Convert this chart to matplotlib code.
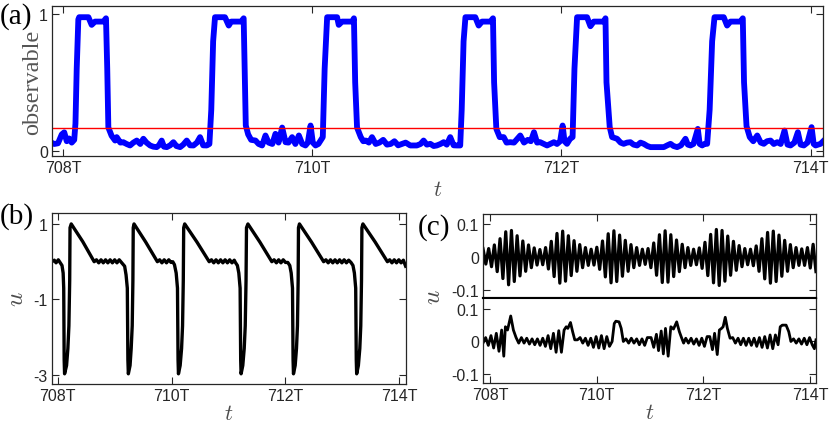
import matplotlib
matplotlib.use("Agg")
import matplotlib.pyplot as plt
import numpy as np

plt.rcParams['font.family'] = ['Liberation Sans', 'DejaVu Sans']
plt.rcParams['mathtext.fontset'] = 'cm'

# ---- panel (a): observable ----
obs_t = [707.90, 707.93, 707.96, 707.99, 708.01, 708.03, 708.05, 708.07, 708.09, 708.10,
         708.11, 708.123, 708.13, 708.204, 708.23, 708.257, 708.324, 708.345, 708.355, 708.364,
         708.39, 708.418, 708.431, 708.46, 708.484, 708.51, 708.538, 708.565, 708.592, 708.62,
         708.645, 708.67, 708.699, 708.725, 708.752, 708.77, 708.792, 708.81, 708.833, 708.86,
         708.886, 708.91, 708.94, 708.965, 708.993, 709.02, 709.047, 709.075, 709.10, 709.125,
         709.154, 709.175, 709.19, 709.205, 709.22, 709.30, 709.33, 709.35, 709.43, 709.45,
         709.46, 709.467, 709.486, 709.51, 709.545, 709.57, 709.598, 709.625, 709.65, 709.68,
         709.705, 709.73, 709.759, 709.786, 709.81, 709.839, 709.865, 709.893, 709.92, 709.946,
         709.965, 709.987, 710.005, 710.027, 710.05, 710.067, 710.085, 710.10, 710.12, 710.20,
         710.213, 710.24, 710.32, 710.335, 710.345, 710.36, 710.39, 710.41, 710.43, 710.455,
         710.48, 710.51, 710.54, 710.57, 710.60, 710.63, 710.66, 710.69, 710.72, 710.75,
         710.787, 710.84, 710.87, 710.894, 710.92, 710.948, 710.975, 711.0, 711.03, 711.055,
         711.08, 711.108, 711.135, 711.162, 711.188, 711.20, 711.215, 711.23, 711.309, 711.336,
         711.363, 711.43, 711.451, 711.46, 711.478, 711.505, 711.537, 711.56, 711.59, 711.62,
         711.67, 711.70, 711.73, 711.755, 711.78, 711.805, 711.83, 711.86, 711.885, 711.91,
         711.94, 711.965, 711.99, 712.01, 712.025, 712.045, 712.07, 712.09, 712.105, 712.126,
         712.206, 712.233, 712.26, 712.34, 712.354, 712.362, 712.388, 712.407, 712.447, 712.475,
         712.50, 712.527, 712.554, 712.58, 712.608, 712.635, 712.661, 712.69, 712.715, 712.77,
         712.822, 712.85, 712.876, 712.90, 712.929, 712.96, 712.996, 713.015, 713.036, 713.06,
         713.095, 713.11, 713.13, 713.15, 713.17, 713.19, 713.21, 713.229, 713.303, 713.33,
         713.357, 713.437, 713.456, 713.466, 713.486, 713.512, 713.54, 713.572, 713.60, 713.625,
         713.65, 713.679, 713.705, 713.732, 713.76, 713.791, 713.815, 713.839, 713.87, 713.898,
         713.92, 713.946, 713.975, 714.008, 714.025, 714.04, 714.06, 714.08, 714.107]
obs_v = [0.063, 0.05, 0.055, 0.12, 0.135, 0.07, 0.09, 0.06, 0.08, 0.2,
         0.6, 0.96, 0.976, 0.976, 0.92, 0.944, 0.944, 0.968, 0.6, 0.17,
         0.11, 0.075, 0.1, 0.06, 0.063, 0.05, 0.039, 0.06, 0.075, 0.05,
         0.088, 0.06, 0.039, 0.03, 0.027, 0.04, 0.075, 0.03, 0.027, 0.04,
         0.063, 0.035, 0.027, 0.045, 0.075, 0.04, 0.039, 0.06, 0.1, 0.04,
         0.039, 0.05, 0.3, 0.8, 0.976, 0.976, 0.915, 0.944, 0.944, 0.968,
         0.5, 0.185, 0.12, 0.08, 0.075, 0.05, 0.039, 0.112, 0.06, 0.05,
         0.124, 0.06, 0.17, 0.063, 0.06, 0.1, 0.05, 0.112, 0.05, 0.039,
         0.06, 0.185, 0.06, 0.039, 0.05, 0.075, 0.1, 0.6, 0.976, 0.976,
         0.92, 0.944, 0.944, 0.968, 0.5, 0.17, 0.1, 0.07, 0.075, 0.06,
         0.1, 0.05, 0.06, 0.08, 0.045, 0.05, 0.07, 0.04, 0.05, 0.06,
         0.039, 0.039, 0.05, 0.075, 0.045, 0.051, 0.035, 0.039, 0.05, 0.063,
         0.045, 0.1, 0.04, 0.039, 0.039, 0.3, 0.8, 0.976, 0.976, 0.915,
         0.944, 0.944, 0.968, 0.5, 0.16, 0.1, 0.1, 0.06, 0.063, 0.06,
         0.112, 0.06, 0.08, 0.07, 0.136, 0.06, 0.063, 0.05, 0.039, 0.05,
         0.063, 0.05, 0.07, 0.185, 0.07, 0.051, 0.088, 0.1, 0.6, 0.976,
         0.976, 0.91, 0.944, 0.944, 0.968, 0.5, 0.173, 0.1, 0.088, 0.06,
         0.051, 0.06, 0.063, 0.045, 0.039, 0.06, 0.051, 0.035, 0.027, 0.027,
         0.027, 0.04, 0.051, 0.035, 0.027, 0.04, 0.088, 0.045, 0.039, 0.05,
         0.16, 0.05, 0.039, 0.051, 0.051, 0.3, 0.8, 0.976, 0.976, 0.915,
         0.944, 0.944, 0.968, 0.5, 0.18, 0.1, 0.07, 0.112, 0.06, 0.051,
         0.07, 0.075, 0.05, 0.063, 0.05, 0.148, 0.045, 0.039, 0.06, 0.136,
         0.045, 0.039, 0.06, 0.173, 0.05, 0.039, 0.045, 0.051, 0.075]
threshold = 0.17

# ---- panel (b): u ----
u_t = [707.90, 707.94, 707.97, 708.01, 708.04,
       708.075, 708.095, 708.105, 708.113, 708.12, 708.155, 708.178, 708.196, 708.21, 708.216,
       708.237, 708.44, 708.64,
       708.68, 708.72, 708.76, 708.80, 708.84, 708.88, 708.92, 708.96, 709.00, 709.04, 709.08, 709.12,
       709.175, 709.20, 709.222, 709.232, 709.24, 709.27, 709.29, 709.308, 709.32, 709.326,
       709.34, 709.545, 709.75,
       709.79, 709.83, 709.87, 709.91, 709.95, 709.99, 710.02,
       710.05, 710.08, 710.103, 710.113, 710.12, 710.15, 710.175, 710.192, 710.205, 710.212,
       710.23, 710.445, 710.66,
       710.70, 710.74, 710.78, 710.82, 710.86, 710.90, 710.94, 710.98, 711.02, 711.06, 711.10, 711.12,
       711.155, 711.18, 711.203, 711.213, 711.22, 711.25, 711.275, 711.293, 711.307, 711.315,
       711.34, 711.55, 711.76,
       711.80, 711.84, 711.88, 711.92, 711.96, 712.00, 712.04,
       712.075, 712.10, 712.123, 712.133, 712.14, 712.17, 712.193, 712.21, 712.222, 712.228,
       712.245, 712.457, 712.67,
       712.71, 712.75, 712.79, 712.83, 712.87, 712.91, 712.95, 712.99, 713.03, 713.07, 713.11, 713.15,
       713.185, 713.21, 713.233, 713.243, 713.25, 713.28, 713.305, 713.322, 713.335, 713.342,
       713.36, 713.575, 713.79,
       713.83, 713.87, 713.91, 713.95, 713.99, 714.03, 714.07, 714.11]
u_v = [0.0, 0.04, -0.03, 0.05, -0.02,
       -0.1, -0.3, -0.7, -2.6, -2.97, -2.75, -2.3, -1.7, -0.5, 0.9,
       1.0, 0.53, 0.0,
       0.05, -0.03, 0.05, -0.03, 0.05, -0.03, 0.05, -0.03, 0.05, -0.03, 0.05, -0.02,
       -0.12, -0.35, -0.7, -2.6, -2.97, -2.75, -2.3, -1.7, -0.5, 0.9,
       1.0, 0.52, 0.0,
       0.05, -0.03, 0.05, -0.03, 0.05, -0.02, 0.0,
       -0.08, -0.3, -0.7, -2.6, -2.97, -2.75, -2.3, -1.7, -0.5, 0.9,
       1.0, 0.52, 0.0,
       0.05, -0.03, 0.05, -0.03, 0.05, -0.03, 0.05, -0.03, 0.05, -0.03, 0.04, -0.02,
       -0.1, -0.3, -0.7, -2.6, -2.97, -2.75, -2.3, -1.7, -0.5, 0.9,
       1.0, 0.52, 0.0,
       0.05, -0.03, 0.05, -0.03, 0.05, -0.02, -0.02,
       -0.1, -0.3, -0.7, -2.6, -2.97, -2.75, -2.3, -1.7, -0.5, 0.9,
       1.0, 0.52, 0.0,
       0.05, -0.03, 0.05, -0.03, 0.05, -0.03, 0.05, -0.03, 0.05, -0.03, 0.04, -0.02,
       -0.1, -0.3, -0.7, -2.6, -2.97, -2.75, -2.3, -1.7, -0.5, 0.9,
       1.0, 0.52, 0.0,
       0.05, -0.03, 0.05, -0.03, 0.05, -0.03, 0.04, -0.12]

# ---- panel (c) top: extrema of the fast oscillation, evenly spaced in t ----
c1_v = [0.025, -0.022, 0.025, -0.03, 0.036, -0.045, 0.055, -0.066, 0.076, -0.085,
        0.08, -0.075, 0.064, -0.058, 0.048, -0.044, 0.036, -0.033, 0.027, -0.025,
        0.022, -0.024, 0.028, -0.037, 0.047, -0.06, 0.071, -0.08, 0.078, -0.074,
        0.064, -0.057, 0.049, -0.044, 0.037, -0.033, 0.028, -0.026, 0.023, -0.025,
        0.029, -0.038, 0.048, -0.061, 0.07, -0.079, 0.079, -0.075, 0.066, -0.059,
        0.05, -0.044, 0.037, -0.033, 0.028, -0.026, 0.023, -0.023, 0.025, -0.033,
        0.042, -0.056, 0.067, -0.078, 0.079, -0.077, 0.067, -0.06, 0.051, -0.045,
        0.038, -0.033, 0.028, -0.026, 0.023, -0.024, 0.027, -0.035, 0.044, -0.057,
        0.068, -0.079, 0.083, -0.087, 0.08, -0.074, 0.063, -0.056, 0.047, -0.041,
        0.034, -0.03, 0.025, -0.024, 0.023, -0.027, 0.033, -0.044, 0.055, -0.067,
        0.074, -0.08, 0.078, -0.075, 0.066, -0.059, 0.05, -0.044, 0.037, -0.033,
        0.028, -0.026, 0.024, -0.026, 0.028, -0.034, 0.038, -0.045]
c1_t = np.linspace(707.87, 714.11, len(c1_v))

# ---- panel (c) bottom ----
c2_t = [707.87, 707.92, 707.97, 708.02, 708.07, 708.12, 708.17, 708.22, 708.26, 708.29,
        708.33, 708.39, 708.44, 708.49, 708.54, 708.59, 708.64, 708.69, 708.74, 708.79,
        708.84, 708.89, 708.94, 708.99, 709.04, 709.09, 709.14, 709.19, 709.24, 709.29,
        709.34, 709.39, 709.43, 709.46, 709.51, 709.55, 709.59, 709.64, 709.69, 709.74,
        709.79, 709.84, 709.89, 709.94, 709.99, 710.04, 710.09, 710.14, 710.19, 710.24,
        710.29, 710.33, 710.36, 710.42, 710.46, 710.50, 710.55, 710.60, 710.65, 710.70,
        710.75, 710.80, 710.85, 710.90, 710.95, 711.02, 711.07, 711.12, 711.16, 711.21,
        711.25, 711.29, 711.34, 711.39, 711.44, 711.50, 711.55, 711.59, 711.63, 711.67,
        711.72, 711.77, 711.82, 711.87, 711.92, 711.97, 712.02, 712.07, 712.12, 712.17,
        712.21, 712.26, 712.30, 712.34, 712.37, 712.41, 712.45, 712.50, 712.55, 712.60,
        712.65, 712.70, 712.75, 712.80, 712.85, 712.90, 712.95, 713.00, 713.05, 713.10,
        713.15, 713.20, 713.25, 713.30, 713.35, 713.40, 713.44, 713.48, 713.55, 713.60,
        713.64, 713.69, 713.74, 713.79, 713.84, 713.89, 713.94, 713.99, 714.04, 714.08,
        714.11]
c2_v = [-0.005, 0.012, -0.012, 0.018, -0.02, 0.025, -0.03, 0.035, -0.045, 0.045,
        0.035, 0.078, 0.035, 0.012, -0.005, 0.012, -0.005, 0.01, -0.008, 0.008,
        -0.01, 0.008, -0.012, 0.01, -0.015, 0.018, -0.022, 0.025, -0.033, 0.033,
        -0.033, 0.035, 0.045, 0.04, 0.058, 0.03, 0.005, 0.005, 0.012, -0.005,
        0.01, -0.012, 0.01, -0.018, 0.015, -0.02, 0.018, -0.022, 0.015, -0.015,
        0.0, 0.055, 0.062, 0.06, 0.04, 0.0, 0.008, -0.005, 0.01, -0.005,
        0.008, -0.01, 0.008, -0.012, 0.012, 0.012, -0.018, 0.022, -0.028, 0.032,
        -0.038, 0.04, -0.045, 0.045, 0.038, 0.06, 0.03, 0.012, -0.005, 0.01,
        -0.005, 0.01, -0.008, 0.008, -0.012, 0.01, -0.015, 0.015, 0.015, -0.025,
        0.025, -0.04, 0.035, 0.04, 0.045, 0.074, 0.04, 0.01, 0.012, -0.005,
        0.01, -0.01, 0.01, -0.012, 0.01, -0.012, 0.01, -0.015, 0.012, -0.018,
        0.015, -0.02, 0.02, -0.022, 0.02, -0.01, 0.045, 0.05, 0.05, 0.03,
        0.0, 0.008, -0.005, 0.008, -0.008, 0.01, -0.01, 0.012, -0.01, -0.022,
        0.005]

x_ticks = [708, 710, 712, 714]
x_labels = ['708T', '710T', '712T', '714T']

AX_COL = '#262626'
LAB_COL = '#4d4d4d'


def style(ax, xlim, ylim, yticks, ylabels, xlabels=True, top=True, bottom=True):
    ax.set_xlim(*xlim)
    ax.set_ylim(*ylim)
    ax.set_xticks(x_ticks)
    ax.set_xticklabels(x_labels if xlabels else [])
    ax.set_yticks(yticks)
    ax.set_yticklabels(ylabels)
    ax.tick_params(direction='in', length=5, width=0.8, color=AX_COL,
                   labelsize=11.5, labelcolor=AX_COL, top=top, bottom=bottom,
                   right=True, pad=3)
    for s in ax.spines.values():
        s.set_color(AX_COL)
        s.set_linewidth(0.9)


fig = plt.figure(figsize=(8.3, 4.31), dpi=100)

# (a)
ax_a = fig.add_axes([0.0627, 0.6357, 0.9289, 0.3481])
ax_a.plot(obs_t, obs_v, color='#0000ff', lw=4.2, solid_joinstyle='round')
ax_a.axhline(threshold, color='#ff0000', lw=1.0)
style(ax_a, (707.912, 714.10), (-0.038, 1.058), [0, 1], ['0', '1'])
ax_a.set_ylabel('observable', family='Liberation Serif', fontsize=17.5,
                color='#555555', labelpad=-3)
ax_a.set_xlabel('$t$', fontsize=16, color=LAB_COL, labelpad=3)

# (b)
ax_b = fig.add_axes([0.0627, 0.1067, 0.4265, 0.3968])
ax_b.plot(u_t, u_v, color='black', lw=2.4, solid_joinstyle='round')
style(ax_b, (707.90, 714.117), (-3.24, 1.29), [-3, -1, 1], ['-3', '-1', '1'])
ax_b.set_xlabel('$t$', fontsize=16, color=LAB_COL, labelpad=0)
ax_b.set_ylabel('$u$', fontsize=18, color=LAB_COL, labelpad=4)

# (c)
ax_c1 = fig.add_axes([0.5819, 0.3063, 0.4012, 0.1949])
ax_c1.plot(c1_t, c1_v, color='black', lw=2.3, solid_joinstyle='round')
style(ax_c1, (707.87, 714.11), (-0.125, 0.13), [-0.1, 0, 0.1],
      ['-0.1', '0', '0.1'], xlabels=False, top=True, bottom=False)
ax_c1.spines['bottom'].set_linewidth(1.5)
ax_c1.spines['bottom'].set_color('black')

ax_c2 = fig.add_axes([0.5819, 0.109, 0.4012, 0.1973])
ax_c2.plot(c2_t, c2_v, color='black', lw=2.0, solid_joinstyle='round')
style(ax_c2, (707.87, 714.11), (-0.127, 0.133), [-0.1, 0, 0.1],
      ['-0.1', '0', '0.1'], top=False, bottom=True)
ax_c2.spines['top'].set_linewidth(1.5)
ax_c2.spines['top'].set_color('black')
ax_c2.set_xlabel('$t$', fontsize=16, color=LAB_COL, labelpad=0)

fig.text(0.522, 0.31, '$u$', fontsize=18, color=LAB_COL, rotation=90,
         ha='center', va='center')

# panel letters
for x, y, lab in [(0.0, 0.962, '(a)'), (0.0, 0.497, '(b)'), (0.503, 0.472, '(c)')]:
    fig.text(x, y, lab, family='Liberation Serif', fontsize=21, ha='left', va='center')

fig.savefig('out.png', dpi=100)
